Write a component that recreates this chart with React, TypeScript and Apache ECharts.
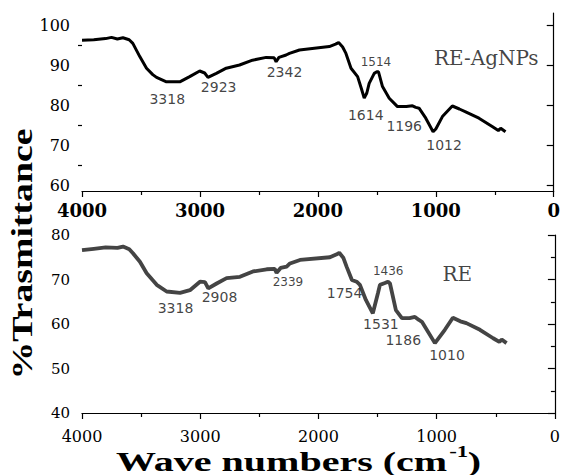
import React, { useEffect, useRef } from "react";
import * as echarts from "echarts";

// RE-AgNPs spectrum (top panel)
const agWave = [4000, 3900, 3800, 3750, 3700, 3653, 3600, 3569, 3510, 3453, 3400, 3368, 3284, 3171, 3087, 3002, 2960, 2932, 2861, 2777, 2664, 2554, 2438, 2370, 2354, 2330, 2269, 2241, 2156, 1903, 1850, 1824, 1790, 1762, 1719, 1663, 1630, 1607, 1585, 1565, 1522, 1500, 1486, 1452, 1395, 1325, 1250, 1198, 1170, 1142, 1085, 1023, 1000, 944, 860, 800, 747, 634, 522, 470, 450, 409];
const agTrans = [96.2, 96.3, 96.6, 96.9, 96.5, 96.8, 96.3, 95.4, 92.1, 89.2, 87.6, 86.9, 85.8, 85.8, 87.1, 88.5, 88.0, 86.9, 87.9, 89.2, 90.0, 91.2, 91.9, 91.8, 90.8, 91.9, 92.5, 92.9, 93.75, 94.6, 95.2, 95.6, 94.5, 92.9, 89.2, 87.1, 84.0, 81.7, 83.0, 85.4, 87.9, 88.3, 88.3, 84.6, 81.7, 79.6, 79.6, 79.8, 79.4, 79.2, 76.7, 73.3, 74.0, 77.1, 79.75, 79.0, 78.3, 76.7, 74.6, 73.6, 74.2, 73.3];

// RE spectrum (bottom panel)
const reWave = [4000, 3900, 3800, 3700, 3653, 3600, 3569, 3510, 3453, 3368, 3284, 3171, 3087, 3002, 2960, 2932, 2861, 2777, 2664, 2554, 2438, 2370, 2354, 2320, 2269, 2241, 2156, 1903, 1850, 1824, 1790, 1762, 1717, 1677, 1649, 1599, 1540, 1497, 1480, 1438, 1412, 1395, 1345, 1294, 1230, 1184, 1150, 1125, 1015, 931, 863, 800, 749, 634, 522, 470, 450, 409];
const reTrans = [76.6, 76.9, 77.2, 77.1, 77.4, 76.8, 75.9, 74.0, 71.4, 68.8, 67.3, 67.0, 67.6, 69.5, 69.4, 68.0, 69.1, 70.3, 70.6, 71.8, 72.3, 72.4, 71.5, 72.6, 72.9, 73.6, 74.4, 75.0, 75.6, 76.0, 74.9, 72.9, 69.9, 69.5, 68.8, 65.4, 62.4, 66.9, 68.8, 69.2, 69.5, 69.1, 63.1, 61.3, 61.3, 61.6, 60.9, 60.5, 55.7, 58.7, 61.4, 60.6, 60.2, 58.7, 56.8, 56.0, 56.5, 55.7];

// Peak annotations
const agPeakText = ["3318", "2923", "2342", "1514", "1614", "1196", "1012"];
const agPeakX = [3277, 2841, 2283, 1508, 1594, 1268, 930];
const agPeakY = [81.4, 84.6, 88.3, 90.8, 77.5, 74.8, 70.0];
const agSmall = ["1514"];

const rePeakText = ["3318", "2908", "2339", "1754", "1436", "1531", "1186", "1010"];
const rePeakX = [3209, 2837, 2258, 1779, 1410, 1472, 1283, 913];
const rePeakY = [63.7, 66.0, 69.4, 66.9, 71.9, 59.9, 56.3, 53.0];
const reSmall = ["1436", "2339"];

// Series names / legends
const agName = "RE-AgNPs";
const agNameX = 572;
const agNameY = 91.7;
const reName = "RE";
const reNameX = 825;
const reNameY = 71.2;

// Tick values
const xTickInterval = 1000;
const topYTicks = [60, 70, 80, 90, 100];
const topYMinor = [65, 75, 85, 95];

export default function App() {
  const ref = useRef<HTMLDivElement>(null);

  useEffect(() => {
    if (!ref.current) return;
    const chart = echarts.init(ref.current, null, { renderer: "svg" });

    const serif = "DejaVu Serif";
    const sans = "DejaVu Sans";

    const xAxisBase = (grid: number, labelStyle: any) => ({
      gridIndex: grid,
      type: "value",
      min: 0,
      max: 4000,
      interval: xTickInterval,
      inverse: true,
      axisLine: { show: true, onZero: false, lineStyle: { color: "#000", width: 1.2 } },
      axisTick: { show: true, length: 6, lineStyle: { color: "#000", width: 1.2 } },
      minorTick: { show: true, splitNumber: 2, length: 4, lineStyle: { color: "#000", width: 1.2 } },
      splitLine: { show: false },
      axisLabel: { color: "#000", fontFamily: serif, formatter: (v: number) => String(v), ...labelStyle },
    });

    const peakData = (txt: string[], xs: number[], ys: number[], small: string[]) =>
      txt.map((t, i) => ({
        name: t,
        value: [xs[i], ys[i]],
        label: small.includes(t) ? { fontSize: 12, lineHeight: 11 } : undefined,
      }));

    const annoSeries = (xi: number, yi: number, data: any[]) => ({
      type: "scatter",
      xAxisIndex: xi,
      yAxisIndex: yi,
      symbolSize: 0,
      itemStyle: { color: "transparent" },
      silent: true,
      z: 5,
      label: {
        show: true,
        position: "inside",
        formatter: "{b}",
        fontFamily: sans,
        fontSize: 14,
        lineHeight: 12,
        color: "#111",
      },
      data,
    });

    const option: any = {
      animation: false,
      backgroundColor: "#fff",
      grid: [
        { left: 82, top: 13, width: 473, height: 178 },
        { left: 82, top: 235, width: 473, height: 178 },
      ],
      xAxis: [
        xAxisBase(0, { fontSize: 18, fontWeight: "bold", margin: 10 }),
        xAxisBase(1, { fontSize: 16, margin: 15 }),
      ],
      yAxis: [
        {
          gridIndex: 0,
          type: "value",
          min: 58.5,
          max: 103,
          axisLine: { show: true, lineStyle: { color: "#000", width: 1.2 } },
          axisTick: { show: true, length: 7, customValues: topYTicks, lineStyle: { color: "#000", width: 1.2 } },
          axisLabel: { customValues: topYTicks, color: "#000", fontFamily: serif, fontSize: 16, margin: 12 },
          splitLine: { show: false },
        },
        {
          gridIndex: 0,
          type: "value",
          min: 58.5,
          max: 103,
          position: "left",
          axisLine: { show: false },
          axisTick: { show: true, length: 4, customValues: topYMinor, lineStyle: { color: "#000", width: 1.2 } },
          axisLabel: { show: false },
          splitLine: { show: false },
        },
        {
          gridIndex: 1,
          type: "value",
          min: 40,
          max: 80,
          interval: 10,
          axisLine: { show: true, lineStyle: { color: "#000", width: 1.2 } },
          axisTick: { show: true, length: 7, lineStyle: { color: "#000", width: 1.2 } },
          minorTick: { show: true, splitNumber: 2, length: 4, lineStyle: { color: "#000", width: 1.2 } },
          axisLabel: { color: "#000", fontFamily: serif, fontSize: 15, margin: 12 },
          splitLine: { show: false },
        },
      ],
      series: [
        {
          type: "line",
          name: agName,
          xAxisIndex: 0,
          yAxisIndex: 0,
          showSymbol: false,
          symbol: "none",
          lineStyle: { color: "#000", width: 3 },
          data: agWave.map((w, i) => [w, agTrans[i]]),
        },
        {
          type: "line",
          name: reName,
          xAxisIndex: 1,
          yAxisIndex: 2,
          showSymbol: false,
          symbol: "none",
          lineStyle: { color: "#444", width: 3.8 },
          data: reWave.map((w, i) => [w, reTrans[i]]),
        },
        annoSeries(0, 0, peakData(agPeakText, agPeakX, agPeakY, agSmall)),
        annoSeries(1, 2, peakData(rePeakText, rePeakX, rePeakY, reSmall)),
        {
          type: "scatter",
          xAxisIndex: 0,
          yAxisIndex: 0,
          symbolSize: 0,
          itemStyle: { color: "transparent" },
          silent: true,
          label: { show: true, position: "inside", formatter: "{b}", fontFamily: serif, fontSize: 20, color: "#111" },
          data: [{ name: agName, value: [agNameX, agNameY] }],
        },
        {
          type: "scatter",
          xAxisIndex: 1,
          yAxisIndex: 2,
          symbolSize: 0,
          itemStyle: { color: "transparent" },
          silent: true,
          label: { show: true, position: "inside", formatter: "{b}", fontFamily: serif, fontSize: 20, color: "#111" },
          data: [{ name: reName, value: [reNameX, reNameY] }],
        },
      ],
      graphic: [
        {
          type: "text",
          x: 22,
          y: 254,
          rotation: Math.PI / 2,
          scaleX: 1.26,
          style: {
            text: "%Trasmittance",
            font: 'bold 30px "Liberation Serif"',
            textAlign: "center",
            textVerticalAlign: "middle",
            fill: "#000",
          },
        },
        {
          type: "group",
          x: 299,
          y: 461,
          scaleX: 1.43,
          children: [
            {
              type: "text",
              x: -128,
              y: 0,
              style: {
                text: "Wave numbers (cm",
                font: 'bold 28px "Liberation Serif"',
                textAlign: "left",
                textVerticalAlign: "middle",
                fill: "#000",
              },
            },
            {
              type: "text",
              x: 105,
              y: -10,
              style: {
                text: "-1",
                font: 'bold 16px "Liberation Serif"',
                textAlign: "left",
                textVerticalAlign: "middle",
                fill: "#000",
              },
            },
            {
              type: "text",
              x: 118,
              y: 0,
              style: {
                text: ")",
                font: 'bold 28px "Liberation Serif"',
                textAlign: "left",
                textVerticalAlign: "middle",
                fill: "#000",
              },
            },
          ],
        },
      ],
    };

    chart.setOption(option);
    return () => chart.dispose();
  }, []);

  return (
    <div
      ref={ref}
      style={{ position: "fixed", left: 0, top: 0, width: 563, height: 475, background: "#fff" }}
    />
  );
}
